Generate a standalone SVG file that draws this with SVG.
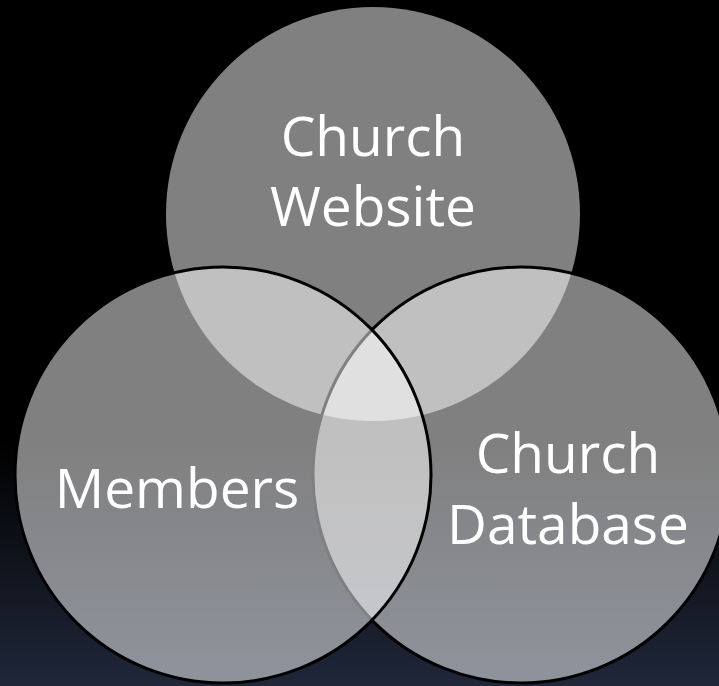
<svg xmlns="http://www.w3.org/2000/svg" width="719" height="686" viewBox="0 0 719 686">
  <defs>
    <linearGradient id="bg" x1="0" y1="0" x2="0" y2="686" gradientUnits="userSpaceOnUse">
      <stop offset="0" stop-color="#000000"/>
      <stop offset="0.64" stop-color="#000000"/>
      <stop offset="1" stop-color="#1f2739"/>
    </linearGradient>
  </defs>
  <style>
    .set { fill: #ffffff; fill-opacity: 0.5; }
    .edged { stroke: #000000; stroke-width: 3; }
    .lbl { font-family: "Open Sans", "Liberation Sans", sans-serif; font-size: 55px; fill: #ffffff; text-anchor: middle; }
  </style>
  <rect x="0" y="0" width="719" height="686" fill="url(#bg)"/>
  <g id="website">
    <circle class="set" cx="373" cy="214" r="207"/>
  </g>
  <g id="database">
    <circle class="set edged" cx="521" cy="475" r="208"/>
  </g>
  <g id="members">
    <circle class="set edged" cx="223" cy="475" r="208"/>
  </g>
  <g id="labels">
    <text class="lbl" x="373" y="156">Church</text>
    <text class="lbl" x="373" y="226">Website</text>
    <text class="lbl" x="177" y="508">Members</text>
    <text class="lbl" x="568" y="473">Church</text>
    <text class="lbl" x="568" y="544">Database</text>
  </g>
  <g id="connectors"/>
</svg>
